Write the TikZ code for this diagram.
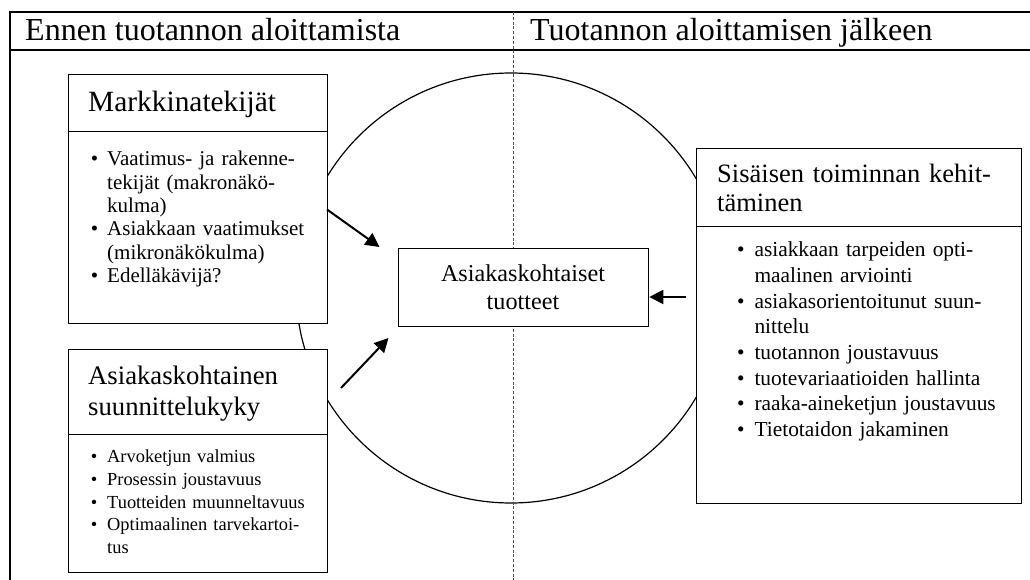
\documentclass[tikz,border=0pt]{standalone}
\usepackage{fontspec}
\setmainfont{Liberation Serif}
\usetikzlibrary{arrows.meta}
\newcommand{\bitem}[1]{\leavevmode\llap{•\hspace{#1}}}
\newcommand{\jline}[1]{\makebox[\linewidth][s]{#1}}
\begin{document}
\begin{tikzpicture}[x=1pt,y=-1pt,
  frame/.style={line width=1.4pt},
  box/.style={draw, line width=1.3pt, fill=white, inner sep=0pt, anchor=north west},
  sepline/.style={dash pattern=on 3pt off 1.8pt, line width=0.7pt, black!70},
  ring/.style={line width=1.2pt},
  arr/.style={line width=2pt, -{Triangle[length=14pt,width=14pt]}},
  txt/.style={inner sep=0pt, anchor=base west},
  title/.style={txt, font=\fontsize{32}{36}\selectfont},
  head/.style={txt, text width=#1, align=left},
  headfont/.style n args={2}{font=\fontsize{#1}{#2}\selectfont},
  list/.style={txt, text width=#1, align=left},
]
\useasboundingbox (0,0) rectangle (1030,580);

% frame
\draw[frame] (10,580) -- (10,12) -- (1030,12);
\draw[frame] (10,50) -- (1030,50);
\node[title] (tl) at (25,40.7) {Ennen tuotannon aloittamista};
\node[title] (tr) at (530,40.7) {Tuotannon aloittamisen jälkeen};

% circle and separator
\draw[ring] (511,288) circle (215);
\draw[sepline] (513,12) -- (513,580);

% left top box
\node[box, minimum width=259pt, minimum height=57pt] (mkh) at (68,74) {};
\node[box, minimum width=259pt, minimum height=192pt] (mkb) at (68,131) {};
\node[head=230pt, headfont={29.4}{31}] (mkt) at (88,112) {Markkinatekijät};
\node[list=199pt, font=\fontsize{21}{23.4}\selectfont] (mkl) at (107,165.7) {%
\bitem{9pt}\jline{Vaatimus- ja rakenne-}\\
\jline{tekijät (makronäkö-}\\
kulma)\\
\bitem{9pt}\jline{Asiakkaan vaatimukset}\\
(mikronäkökulma)\\
\bitem{9pt}Edelläkävijä?};

% left bottom box
\node[box, minimum width=259pt, minimum height=85pt] (ash) at (68,349) {};
\node[box, minimum width=259pt, minimum height=138pt] (asb) at (68,434) {};
\node[head=230pt, headfont={26.7}{31}] (ast) at (88,384) {Asiakaskohtainen\\suunnittelukyky};
\node[list=199pt, font=\fontsize{18.4}{22.7}\selectfont] (asl) at (107,462.7) {%
\bitem{10pt}Arvoketjun valmius\\
\bitem{10pt}Prosessin joustavuus\\
\bitem{10pt}\jline{Tuotteiden muunneltavuus}\\
\bitem{10pt}\jline{Optimaalinen tarvekartoi-}\\
tus};

% right box
\node[box, minimum width=325pt, minimum height=78pt] (sih) at (696,148) {};
\node[box, minimum width=325pt, minimum height=277pt] (sib) at (696,226) {};
\node[head=283pt, headfont={26.5}{29}] (sit) at (717,182.7) {\jline{Sisäisen toiminnan kehit-}\\täminen};
\node[list=246pt, font=\fontsize{21.4}{25.7}\selectfont] (sil) at (754.3,256.7) {%
\bitem{10pt}\jline{asiakkaan tarpeiden opti-}\\
maalinen arviointi\\
\bitem{10pt}\jline{asiakasorientoitunut suun-}\\
nittelu\\
\bitem{10pt}tuotannon joustavuus\\
\bitem{10pt}tuotevariaatioiden hallinta\\
\bitem{10pt}raaka-aineketjun joustavuus\\
\bitem{10pt}Tietotaidon jakaminen};

% center box
\node[box, minimum width=250pt, minimum height=78pt] (cb) at (398,248) {};
\node[inner sep=0pt, anchor=base, text width=240pt, align=center,
      font=\fontsize{24.2}{28}\selectfont] (cbt) at (523,281) {Asiakaskohtaiset\\tuotteet};

% arrows
\coordinate (a1s) at (327,209.5);
\coordinate (a1e) at (379.5,247);
\coordinate (a2s) at (341,388);
\coordinate (a2e) at (388.5,338);
\coordinate (a3s) at (686,297);
\draw[arr] (a1s) -- (a1e);
\draw[arr] (a2s) -- (a2e);
\draw[arr] (a3s) -- (cb.east |- a3s);
\end{tikzpicture}
\end{document}
